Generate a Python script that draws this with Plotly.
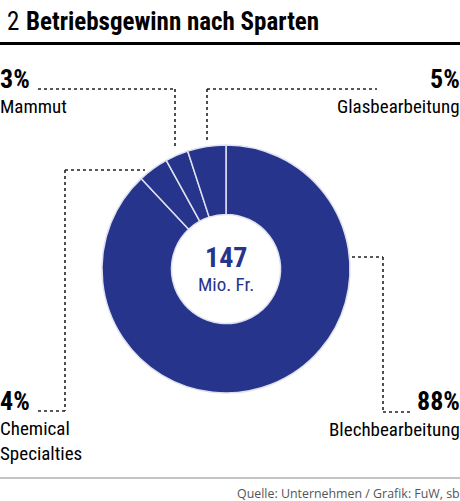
import plotly.graph_objects as go

# Daten
sparten = ["Blechbearbeitung", "Chemical<br>Specialties", "Mammut", "Glasbearbeitung"]
anteile = [88, 4, 3, 5]
total = 147
einheit = "Mio. Fr."
nummer = "2"
titel = "Betriebsgewinn nach Sparten"
quelle = "Quelle: Unternehmen / Grafik: FuW, sb"

W, H = 460, 501
BLAU = "#27348b"
SCHRIFT = "Roboto Condensed, DejaVu Sans Condensed, sans-serif"


def px(x):
    return x / W


def py(y):
    return 1 - y / H


fig = go.Figure()

# Ring
cx, cy, r = 226, 269, 124
fig.add_trace(go.Pie(
    labels=sparten, values=anteile,
    sort=False, direction="clockwise", rotation=0,
    hole=0.44,
    marker=dict(colors=[BLAU] * len(anteile), line=dict(color="#dfe1f0", width=1.5)),
    textinfo="none", hoverinfo="label+percent",
    showlegend=False,
    domain=dict(x=[px(cx - r), px(cx + r)], y=[py(cy + r), py(cy - r)]),
))

# Hinweislinien (gepunktet)
punkte = dict(color="#222222", width=1.6, dash="dot")
linien = [
    # Mammut
    (38, 89, 175, 89), (175, 89, 175, 149),
    # Glasbearbeitung
    (207, 89, 377, 89), (207, 89, 207, 140),
    # Chemical Specialties
    (65, 170, 145, 170), (65, 170, 65, 411), (38, 411, 65, 411),
    # Blechbearbeitung
    (352, 257, 383, 257), (383, 257, 383, 412), (383, 412, 410, 412),
]
shapes = [dict(type="line", xref="paper", yref="paper",
               x0=px(a), y0=py(b), x1=px(c), y1=py(d), line=punkte)
          for a, b, c, d in linien]

# Titellinie und Fusslinie
shapes.append(dict(type="line", xref="paper", yref="paper",
                   x0=0, x1=1, y0=py(43.5), y1=py(43.5),
                   line=dict(color="black", width=3)))
shapes.append(dict(type="line", xref="paper", yref="paper",
                   x0=0, x1=1, y0=py(478), y1=py(478),
                   line=dict(color="#888888", width=1)))

annotations = []


def text(x, y, s, size, anchor, bold=False, color="black", fam=SCHRIFT):
    annotations.append(dict(
        x=px(x), y=py(y), xref="paper", yref="paper",
        text=s, showarrow=False, xanchor=anchor, yanchor="middle",
        align=anchor if anchor != "center" else "center",
        font=dict(family=fam, size=size, color=color,
                  weight="bold" if bold else "normal"),
        borderpad=0,
    ))


# Titel
text(6, 21, nummer, 25, "left")
text(25, 21, titel, 25, "left", bold=True)

# Beschriftungen
prozent = [f"{v}%" for v in anteile]
text(-1, 79, prozent[2], 26, "left", bold=True)
text(-1, 106, sparten[2], 19, "left")
text(461, 79, prozent[3], 26, "right", bold=True)
text(461, 106, sparten[3], 19, "right")
text(-1, 401, prozent[1], 26, "left", bold=True)
text(-1, 441, sparten[1], 19, "left")
text(461, 401, prozent[0], 26, "right", bold=True)
text(461, 429, sparten[0], 19, "right")

# Zentrum
text(cx, 257, f"{total}", 28, "center", bold=True, color=BLAU)
text(cx, 284, einheit, 19, "center", color=BLAU)

# Quelle
text(461, 493, quelle, 12.4, "right", color="#555555", fam="Open Sans, sans-serif")

fig.update_layout(
    width=W, height=H,
    margin=dict(l=0, r=0, t=0, b=0),
    paper_bgcolor="white", plot_bgcolor="white",
    shapes=shapes, annotations=annotations,
)

fig.write_html("out.html", config=dict(displayModeBar=False),
               post_script="document.body.style.margin='0';")
